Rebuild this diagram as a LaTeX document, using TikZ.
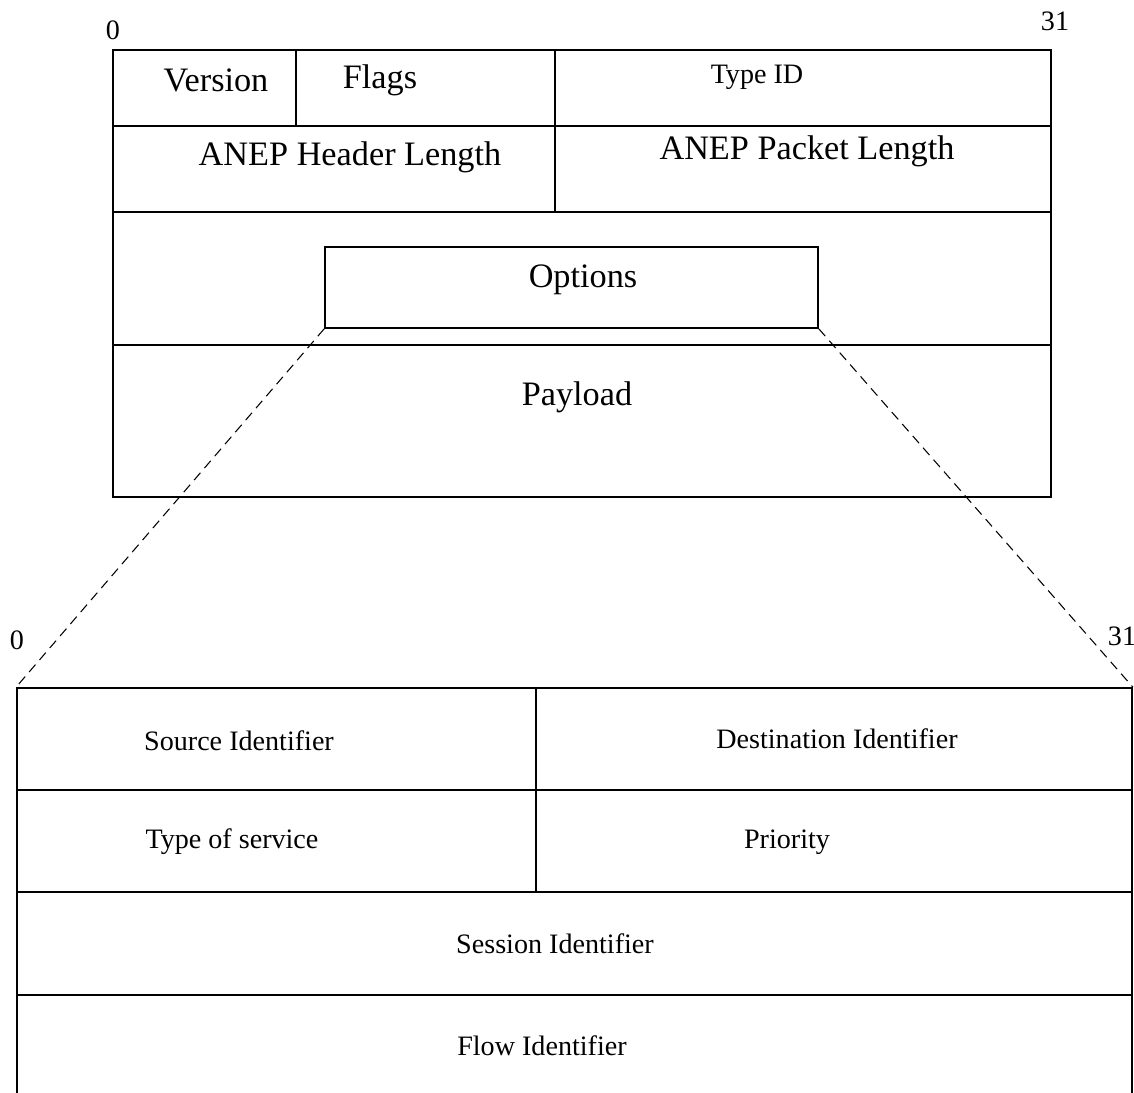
\documentclass[tikz,border=0pt]{standalone}
\usepackage{fontspec}
\setmainfont{Liberation Serif}
\usepackage{tikz}
\usetikzlibrary{fit}

\tikzset{
  box/.style={draw, line width=1pt, inner sep=0pt},
  bigtxt/.style={font=\fontsize{19.5}{22}\selectfont, inner sep=0pt},
  smalltxt/.style={font=\fontsize{16}{19}\selectfont, inner sep=0pt},
  zoomline/.style={line width=0.6pt, dash pattern=on 5.5pt off 3.5pt}
}

\begin{document}
\begin{tikzpicture}[x=0.02cm, y=-0.02cm]
\useasboundingbox (0,0) rectangle (1134,1093);
% ANEP header
\node[box, fit={(113,50) (296,126)}] (ver) {};
\node[box, fit={(296,50) (555,126)}] (flg) {};
\node[box, fit={(555,50) (1051,126)}] (tid) {};
\node[box, fit={(113,126) (555,212)}] (hlen) {};
\node[box, fit={(555,126) (1051,212)}] (plen) {};
\node[box, fit={(113,212) (1051,345)}] (optrow) {};
\node[box, fit={(113,345) (1051,497)}] (pay) {};
\node[box, fit={(325,247) (818,328)}] (opt) {};
\node[smalltxt] (top0) at (113,30) {0};
\node[smalltxt] (top31) at (1055,21) {31};
\node[bigtxt] (tver) at (216,80) {Version};
\node[bigtxt] (tflg) at (380,80) {Flags};
\node[smalltxt] (ttid) at (757,77) {Type ID};
\node[bigtxt] (thlen) at (350,157) {ANEP Header Length};
\node[bigtxt] (tplen) at (807,151) {ANEP Packet Length};
\node[bigtxt] (topt) at (583,280) {Options};
\node[bigtxt] (tpay) at (577,397) {Payload};
% option fields
\node[box, fit={(17,688) (536,790)}] (src) {};
\node[box, fit={(536,688) (1132,790)}] (dst) {};
\node[box, fit={(17,790) (536,892)}] (tos) {};
\node[box, fit={(536,790) (1132,892)}] (prio) {};
\node[box, fit={(17,892) (1132,995)}] (sess) {};
\node[inner sep=0pt, fit={(17,995) (1132,1100)}] (flow) {};
\draw[line width=1pt] (flow.north west) -- (flow.south west)
  (flow.north east) -- (flow.south east);
\node[smalltxt] (bot0) at (17,640) {0};
\node[smalltxt] (bot31) at (1122,636) {31};
\node[smalltxt] (tsrc) at (239,741) {Source Identifier};
\node[smalltxt] (tdst) at (837,739) {Destination Identifier};
\node[smalltxt] (ttos) at (232,842) {Type of service};
\node[smalltxt] (tprio) at (787,842) {Priority};
\node[smalltxt] (tsess) at (555,944) {Session Identifier};
\node[smalltxt] (tflow) at (542,1046) {Flow Identifier};
% zoom lines
\draw[zoomline] (opt.south west) -- (src.north west);
\draw[zoomline] (opt.south east) -- (dst.north east);
\end{tikzpicture}
\end{document}
